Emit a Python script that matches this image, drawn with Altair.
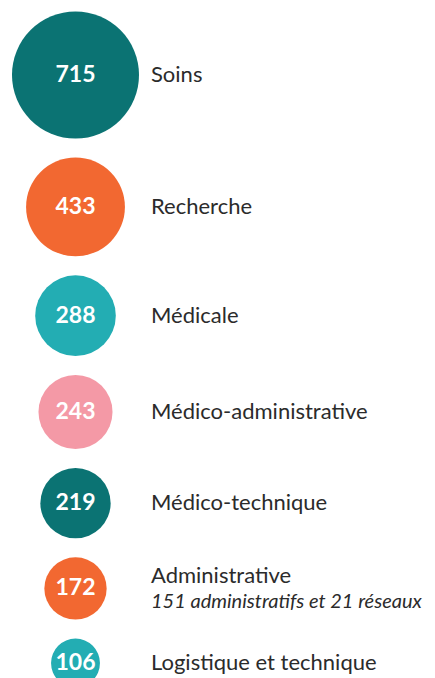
import math
import altair as alt
import pandas as pd

categories = ["Soins", "Recherche", "Médicale", "Médico-administrative",
              "Médico-technique", "Administrative", "Logistique et technique"]
values = [715, 433, 288, 243, 219, 172, 106]
sublabels = ["", "", "", "", "", "151 administratifs et 21 réseaux", ""]
colors = ["#0b7373", "#f26831", "#23adb3", "#f499a6", "#0b7373", "#f26831", "#23adb3"]

W, H = 419, 670
K = 4.75          # diameter = K * sqrt(value)
GAP = 19
TOP0 = 3.5

# stack circles vertically with a constant gap between edges
centers = []
top = TOP0
for v in values:
    d = K * math.sqrt(v)
    centers.append(top + d / 2)
    top += d + GAP

df = pd.DataFrame({
    "cat": categories,
    "value": values,
    "sub": sublabels,
    "color": colors,
    "yc": centers,
    "has_sub": [s != "" for s in sublabels],
})

# Vega symbol size for a circle = diameter^2
max_size = (K * math.sqrt(max(values))) ** 2

yscale = alt.Scale(domain=[0, H], range=[0, H])
X_CIRCLE = 67.5
X_LABEL = 143

base = alt.Chart(df)
y = alt.Y("yc:Q", scale=yscale, axis=None)

circles = base.mark_circle(opacity=1).encode(
    x=alt.value(X_CIRCLE),
    y=y,
    size=alt.Size("value:Q", scale=alt.Scale(domain=[0, max(values)], range=[0, max_size]), legend=None),
    color=alt.Color("color:N", scale=None),
)

numbers = base.mark_text(font="Lato", fontWeight="bold", fontSize=23, color="white",
                         align="center", baseline="middle").encode(
    x=alt.value(X_CIRCLE), y=y, text="value:Q")

labels_single = base.transform_filter("!datum.has_sub").mark_text(
    font="Lato", fontSize=22, color="#2b2b2b", align="left", baseline="middle"
).encode(x=alt.value(X_LABEL), y=y, text="cat:N")

labels_main = base.transform_filter("datum.has_sub").mark_text(
    font="Lato", fontSize=22, color="#2b2b2b", align="left", baseline="middle", dy=-12
).encode(x=alt.value(X_LABEL), y=y, text="cat:N")

labels_sub = base.transform_filter("datum.has_sub").mark_text(
    font="Lato", fontSize=20, fontStyle="italic", color="#2b2b2b", align="left",
    baseline="middle", dy=14
).encode(x=alt.value(X_LABEL), y=y, text="sub:N")

chart = alt.layer(circles, numbers, labels_single, labels_main, labels_sub).properties(
    width=W, height=H, padding=0, autosize="none"
).configure_view(stroke=None)

chart.save("out.html", embed_options={"renderer": "svg", "actions": False})
